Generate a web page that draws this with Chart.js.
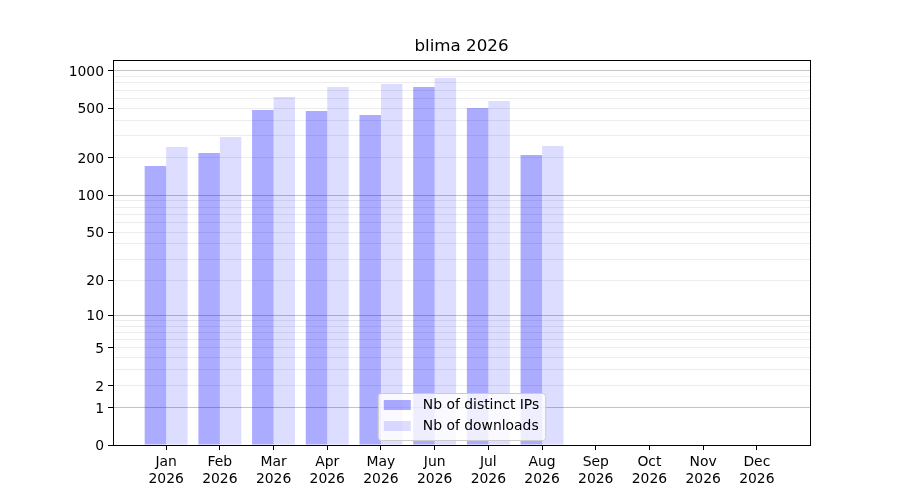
<!DOCTYPE html>
<html>
<head>
<meta charset="utf-8">
<script src="https://cdn.jsdelivr.net/npm/chart.js@4/dist/chart.umd.min.js"></script>
<style>
  body { margin: 0; background: #fff; }
  canvas { display: block; }
</style>
</head>
<body>
<canvas id="chart" width="900" height="500"></canvas>
<script>
const TITLE = "blima 2026";
const MONTHS = ["Jan", "Feb", "Mar", "Apr", "May", "Jun", "Jul", "Aug", "Sep", "Oct", "Nov", "Dec"];
const YEAR = "2026";
const DISTINCT_IPS = [172, 219, 485, 476, 442, 742, 503, 211];
const DOWNLOADS = [244, 294, 617, 742, 784, 876, 573, 249];
const Y_LABELED = [0, 1, 2, 5, 10, 20, 50, 100, 200, 500, 1000];
const Y_MINOR = [3, 4, 6, 7, 8, 9, 30, 40, 60, 70, 80, 90, 300, 400, 600, 700, 800, 900];
const Y_MAJOR_GRID = [1, 10, 100, 1000];
const Y_MAX = 1222;

const FONT = '"DejaVu Sans", sans-serif';

// y axis is log10(1 + v)
const fwd = v => Math.log10(1 + v);
const inv = t => Math.round(Math.pow(10, t) - 1);

const toPoints = arr => arr.map((v, i) => ({ x: i, y: fwd(v) }));

// legend inside the axes, lower center, matplotlib-like
const boxLegend = {
  id: "boxLegend",
  afterDatasetsDraw(chart) {
    const { ctx, chartArea } = chart;
    const sets = chart.data.datasets;
    ctx.save();
    ctx.font = "13.9px " + FONT;
    let textW = 0;
    sets.forEach(ds => { textW = Math.max(textW, ctx.measureText(ds.label).width); });
    const w = 6 + 27 + 12 + textW + 6;
    const h = 47;
    const x = (chartArea.left + chartArea.right) / 2 - w / 2;
    const y = chartArea.bottom - 5 - h;
    ctx.fillStyle = "rgba(255,255,255,0.8)";
    ctx.strokeStyle = "#cccccc";
    ctx.lineWidth = 1;
    ctx.beginPath();
    ctx.roundRect(x + 0.5, y + 0.5, w, h, 3);
    ctx.fill();
    ctx.stroke();
    sets.forEach((ds, i) => {
      const cy = y + 12 + i * 21;
      ctx.fillStyle = ds.backgroundColor;
      ctx.fillRect(x + 6, cy - 5, 27, 10);
      ctx.fillStyle = "#000";
      ctx.textAlign = "left";
      ctx.textBaseline = "middle";
      ctx.fillText(ds.label, x + 45, cy);
    });
    ctx.restore();
  }
};

const frameAndTitle = {
  id: "frameAndTitle",
  afterDraw(chart) {
    const { ctx, chartArea } = chart;
    ctx.save();
    ctx.strokeStyle = "#000";
    ctx.lineWidth = 1;
    ctx.strokeRect(chartArea.left + 0.5, chartArea.top + 0.5,
      chartArea.right - chartArea.left, chartArea.bottom - chartArea.top);
    ctx.fillStyle = "#000";
    ctx.font = "16.7px " + FONT;
    ctx.textAlign = "center";
    ctx.textBaseline = "middle";
    ctx.fillText(TITLE, (chartArea.left + chartArea.right) / 2, 47);
    ctx.restore();
  }
};

new Chart(document.getElementById("chart"), {
  type: "bar",
  data: {
    datasets: [
      { label: "Nb of distinct IPs", data: toPoints(DISTINCT_IPS), backgroundColor: "rgba(0,0,255,0.33)" },
      { label: "Nb of downloads", data: toPoints(DOWNLOADS), backgroundColor: "rgba(0,0,255,0.135)" }
    ]
  },
  options: {
    responsive: false,
    devicePixelRatio: 1,
    animation: false,
    layout: { padding: { top: 60, right: 90, left: 0, bottom: 0 } },
    categoryPercentage: 0.8,
    barPercentage: 1.0,
    plugins: {
      legend: { display: false },
      tooltip: { enabled: false }
    },
    scales: {
      x: {
        type: "linear",
        offset: false,
        min: -0.99,
        max: 11.99,
        afterBuildTicks: scale => { scale.ticks = MONTHS.map((m, i) => ({ value: i })); },
        afterFit: scale => { scale.height = 55; },
        border: { display: false },
        grid: { offset: false, drawOnChartArea: false, drawTicks: true, tickLength: 5, tickColor: "#000" },
        ticks: {
          autoSkip: false,
          maxRotation: 0,
          padding: 4,
          color: "#000",
          font: { family: FONT, size: 13.9 },
          callback: value => [MONTHS[value], YEAR]
        }
      },
      y: {
        type: "linear",
        min: 0,
        max: fwd(Y_MAX),
        afterBuildTicks: scale => {
          scale.ticks = Y_LABELED.concat(Y_MINOR).sort((a, b) => a - b).map(v => ({ value: fwd(v) }));
        },
        afterFit: scale => { scale.width = 113; },
        border: { display: false },
        grid: {
          drawTicks: true,
          tickLength: 5,
          lineWidth: 1,
          color: c => {
            const v = inv(c.tick.value);
            if (v === 0) return "rgba(0,0,0,0)";
            return Y_MAJOR_GRID.includes(v) ? "#c4c4c4" : "#ececec";
          },
          tickColor: c => Y_LABELED.includes(inv(c.tick.value)) ? "#000" : "rgba(0,0,0,0)"
        },
        ticks: {
          autoSkip: false,
          padding: 4,
          labelOffset: 1.5,
          color: "#000",
          font: { family: FONT, size: 13.9 },
          callback: value => {
            const v = inv(value);
            return Y_LABELED.includes(v) ? String(v) : "";
          }
        }
      }
    }
  },
  plugins: [boxLegend, frameAndTitle]
});
</script>
</body>
</html>
